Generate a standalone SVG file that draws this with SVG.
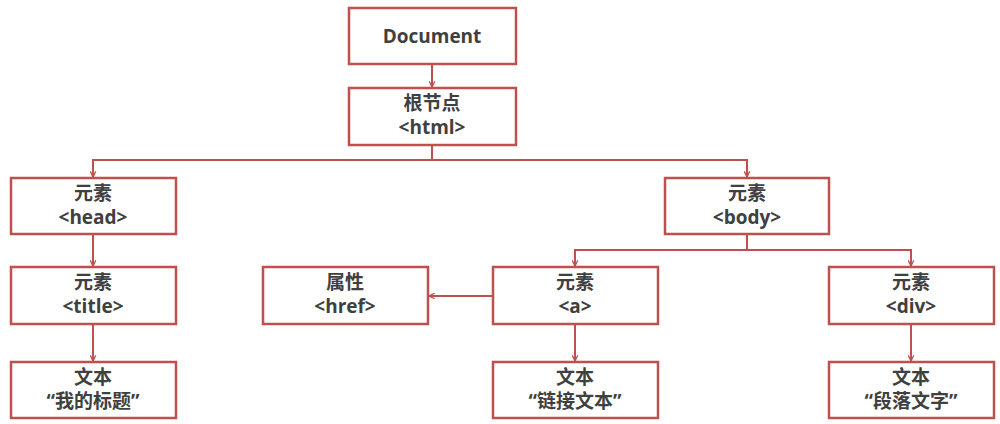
<svg xmlns="http://www.w3.org/2000/svg" width="1000" height="424" viewBox="0 0 1000 424">
<style>
.b{fill:#fff;stroke:#c0504d;stroke-width:2.5}
.t{font-family:"Open Sans","Noto Sans CJK SC",sans-serif;font-weight:bold;font-size:19px;fill:#404040;text-anchor:middle}
.c path{fill:none;stroke:#c0504d;stroke-width:2;marker-end:url(#ar)}
</style>
<defs><marker id="ar" viewBox="0 0 10 10" refX="9" refY="5" markerWidth="7" markerHeight="7" markerUnits="userSpaceOnUse" orient="auto"><path d="M1,1 L9,5 L1,9" fill="none" stroke="#c0504d" stroke-width="1.8"/></marker></defs>
<rect width="1000" height="424" fill="#fff"/>
<g class="c">
<path d="M432,64V87"/>
<path d="M432,145V160H93V177"/>
<path d="M432,160H747V177"/>
<path d="M93,234V266"/>
<path d="M93,324V361"/>
<path d="M747,234V250H575V266"/>
<path d="M747,250H911V266"/>
<path d="M493,296H429"/>
<path d="M575,324V361"/>
<path d="M911,324V361"/>
</g>
<g id="document"><rect class="b" x="349" y="8" width="167" height="56"/><text class="t" x="432" y="43">Document</text></g>
<g id="html"><rect class="b" x="349" y="88" width="167" height="57"/><text class="t" x="432" y="110">根节点</text><text class="t" x="432" y="134">&lt;html&gt;</text></g>
<g id="head"><rect class="b" x="11" y="178" width="165" height="56"/><text class="t" x="93" y="200">元素</text><text class="t" x="93" y="224">&lt;head&gt;</text></g>
<g id="body"><rect class="b" x="665" y="178" width="164" height="56"/><text class="t" x="747" y="200">元素</text><text class="t" x="747" y="224">&lt;body&gt;</text></g>
<g id="title"><rect class="b" x="11" y="267" width="165" height="57"/><text class="t" x="93" y="289">元素</text><text class="t" x="93" y="313">&lt;title&gt;</text></g>
<g id="href"><rect class="b" x="263" y="267" width="165" height="57"/><text class="t" x="345" y="289">属性</text><text class="t" x="345" y="313">&lt;href&gt;</text></g>
<g id="a"><rect class="b" x="493" y="267" width="165" height="57"/><text class="t" x="575" y="289">元素</text><text class="t" x="575" y="313">&lt;a&gt;</text></g>
<g id="div"><rect class="b" x="829" y="267" width="165" height="57"/><text class="t" x="911" y="289">元素</text><text class="t" x="911" y="313">&lt;div&gt;</text></g>
<g id="text1"><rect class="b" x="11" y="362" width="165" height="56"/><text class="t" x="93" y="384">文本</text><text class="t" x="93" y="408">“我的标题”</text></g>
<g id="text2"><rect class="b" x="493" y="362" width="165" height="56"/><text class="t" x="575" y="384">文本</text><text class="t" x="575" y="408">“链接文本”</text></g>
<g id="text3"><rect class="b" x="829" y="362" width="165" height="56"/><text class="t" x="911" y="384">文本</text><text class="t" x="911" y="408">“段落文字”</text></g>
</svg>
